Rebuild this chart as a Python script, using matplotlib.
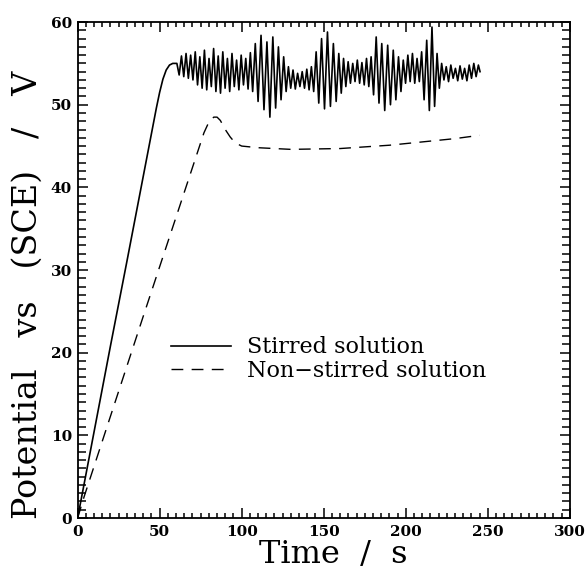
import matplotlib
matplotlib.use('Agg')
import matplotlib.pyplot as plt
from matplotlib.ticker import MultipleLocator
import numpy as np

# 搅拌溶液：线性上升段
stirred_rise_t = [0, 10, 20, 30, 40, 48, 50, 52, 54, 56, 58]
stirred_rise_v = [0, 10.4, 20.8, 31.0, 41.3, 49.6, 51.5, 53.1, 54.2, 54.8, 55.0]

# 搅拌溶液：振荡段（依次为极大/极小值）
osc_t = [60.5, 61.9, 63.3, 64.7, 66.1, 67.5, 68.9, 70.3, 71.7, 73.1,
         74.5, 75.9, 77.3, 78.7, 80.1, 81.5, 82.9, 84.3, 85.7, 87.1,
         88.5, 89.9, 91.3, 92.7, 94.1, 95.5, 96.9, 98.3, 99.7, 101.1,
         102.5, 103.9, 105.3, 106.7, 108.3, 110.0, 111.8, 113.6, 115.4, 117.2,
         119.0, 120.7, 122.4, 124.0, 125.6, 127.1, 128.5, 129.9, 131.3, 132.7,
         134.1, 135.5, 136.9, 138.3, 139.7, 141.1, 142.5, 143.9, 145.4, 147.0,
         148.7, 150.5, 152.3, 154.1, 155.9, 157.6, 159.2, 160.7, 162.1, 163.5,
         164.9, 166.3, 167.7, 169.1, 170.5, 171.9, 173.3, 174.7, 176.1, 177.5,
         178.9, 180.4, 182.0, 183.7, 185.4, 187.2, 189.0, 190.7, 192.4, 194.0,
         195.6, 197.1, 198.5, 199.9, 201.3, 202.7, 204.1, 205.5, 206.9, 208.3,
         209.7, 211.2, 212.8, 214.4, 216.0, 217.6, 219.1, 220.5, 221.9, 223.3,
         224.7, 226.1, 227.5, 228.9, 230.3, 231.7, 233.1, 234.5, 235.9, 237.3,
         238.7, 240.1, 241.5, 242.9, 244.3, 245.3]
osc_v = [55.0, 53.6, 55.9, 53.4, 56.2, 53.2, 56.0, 53.0, 56.4, 52.4,
         55.8, 52.0, 56.6, 51.8, 55.6, 52.2, 56.8, 51.6, 55.9, 51.4,
         56.4, 52.0, 55.6, 51.6, 56.2, 52.2, 55.4, 51.8, 56.0, 52.4,
         55.6, 51.9, 56.3, 51.6, 57.4, 50.4, 58.4, 49.4, 57.6, 48.5,
         58.2, 49.6, 57.0, 50.6, 55.8, 51.6, 54.6, 52.0, 54.2, 51.9,
         53.8, 52.2, 54.0, 52.0, 54.3, 51.8, 54.6, 51.6, 56.4, 50.2,
         58.0, 49.5, 58.8, 49.8, 57.4, 50.4, 56.2, 51.4, 55.6, 52.2,
         55.2, 52.6, 55.0, 52.8, 55.4, 52.6, 55.1, 52.4, 55.6, 52.2,
         55.8, 51.2, 58.2, 50.2, 57.4, 49.3, 57.2, 50.0, 56.6, 50.6,
         55.8, 51.6, 55.4, 52.6, 56.0, 52.8, 56.2, 52.6, 55.6, 52.8,
         56.4, 50.6, 57.8, 49.3, 59.4, 49.8, 56.2, 52.0, 55.0, 53.0,
         54.6, 52.8, 54.8, 53.2, 54.4, 52.9, 54.7, 53.1, 54.4, 52.9,
         54.8, 53.2, 55.0, 53.4, 54.8, 54.0]

# 未搅拌溶液
still_t = [0, 4, 20, 40, 52, 60, 70, 77, 80, 83, 85, 87, 90, 93, 96, 100,
           110, 130, 160, 190, 210, 230, 245]
still_v = [0, 2.6, 12.3, 24.4, 31.6, 36.4, 42.4, 46.6, 47.9, 48.5, 48.5, 48.1,
           47.0, 46.1, 45.4, 45.0, 44.8, 44.6, 44.7, 45.1, 45.5, 45.9, 46.3]

labels = ['Stirred solution', 'Non\u2212stirred solution']


def main():
    plt.rcParams['font.family'] = ['DejaVu Serif']

    fig = plt.figure(figsize=(5.88, 5.72), dpi=100)
    ax = fig.add_axes([0.132, 0.0944, 0.837, 0.867])

    t1 = np.concatenate([stirred_rise_t, osc_t])
    v1 = np.concatenate([stirred_rise_v, osc_v])
    ax.plot(t1, v1, color='black', lw=1.2, label=labels[0])
    ax.plot(still_t, still_v, color='black', lw=1.0, dashes=(8.5, 6),
            label=labels[1])

    ax.set_xlim(0, 300)
    ax.set_ylim(0, 60)
    ax.xaxis.set_major_locator(MultipleLocator(50))
    ax.xaxis.set_minor_locator(MultipleLocator(5))
    ax.yaxis.set_major_locator(MultipleLocator(10))
    ax.yaxis.set_minor_locator(MultipleLocator(1))

    # 刻度朝内，四边都有
    ax.tick_params(which='both', direction='in', top=True, right=True,
                   width=1.1, labelsize=11)
    ax.tick_params(axis='x', which='major', length=7, pad=5)
    ax.tick_params(axis='x', which='minor', length=3.6)
    ax.tick_params(axis='y', which='major', length=7.5, pad=4)
    ax.tick_params(axis='y', which='minor', length=5.5)
    for lab in ax.get_xticklabels() + ax.get_yticklabels():
        lab.set_fontweight('bold')
    for sp in ax.spines.values():
        sp.set_linewidth(1.3)

    ax.set_xlabel('Time  /  s', fontsize=23)
    ax.set_ylabel('Potential   vs   (SCE)   /   V', fontsize=24)
    ax.xaxis.set_label_coords(0.52, -0.043)
    ax.yaxis.set_label_coords(-0.068, 0.45)

    ax.legend(loc='upper left', bbox_to_anchor=(0.19, 0.366), frameon=False,
              fontsize=16, handlelength=2.7, handletextpad=0.7,
              labelspacing=0.05, borderpad=0, borderaxespad=0)

    fig.savefig('out.png', dpi=100)


if __name__ == "__main__":
    main()
